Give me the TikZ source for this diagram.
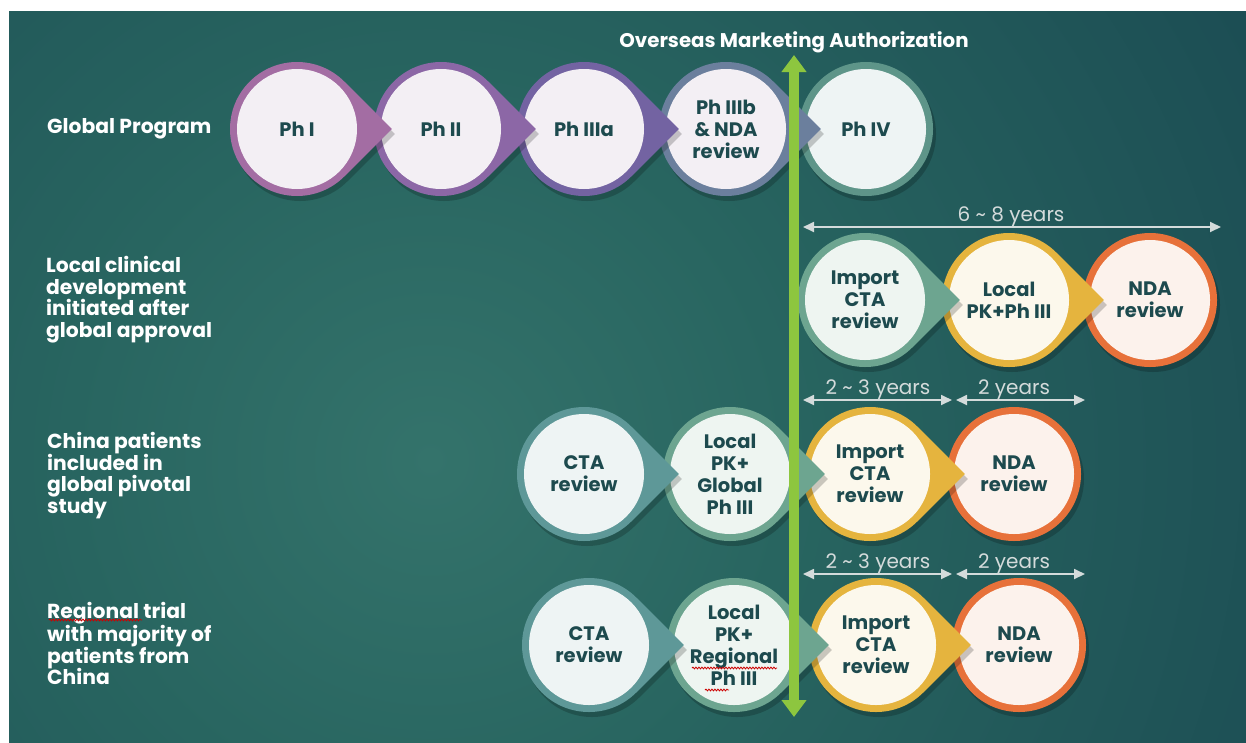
\documentclass[tikz,border=0pt]{standalone}
\usepackage{fontspec}
\setmainfont{Poppins}
\usetikzlibrary{arrows.meta,calc,decorations.pathmorphing}
\definecolor{bgA}{HTML}{34736B}
\definecolor{bgB}{HTML}{286560}
\definecolor{bgC}{HTML}{15404D}
\definecolor{txt}{HTML}{1D4A4E}
\definecolor{cA}{HTML}{A36DA3}
\definecolor{cB}{HTML}{8C67A6}
\definecolor{cC}{HTML}{7363A2}
\definecolor{cD}{HTML}{6B7F9D}
\definecolor{cE}{HTML}{5E9589}
\definecolor{fpur}{HTML}{F3EFF4}
\definecolor{sage}{HTML}{6DA590}
\definecolor{gold}{HTML}{E5B43E}
\definecolor{orng}{HTML}{E7713A}
\definecolor{teal}{HTML}{5E9898}
\definecolor{fsage}{HTML}{EEF5F1}
\definecolor{fgold}{HTML}{FCF8EC}
\definecolor{forng}{HTML}{FCF2EC}
\definecolor{fteal}{HTML}{EEF4F4}
\definecolor{grn}{HTML}{8DC63F}
\definecolor{dimc}{HTML}{D4DBDB}
\pgfdeclareradialshading{bgshade}{\pgfpoint{0bp}{0bp}}{color(0bp)=(bgA); color(6bp)=(bgB); color(21bp)=(bgC); color(50bp)=(bgC)}
\newcommand{\tdrop}[6]{%
  \fill[black,opacity=0.2] (#2+3,#3+5) ++(45:67) arc[start angle=45,end angle=315,radius=67] -- (#2+3+94.8,#3+5) -- cycle;
  \fill[#4] (#2,#3) ++(45:67) arc[start angle=45,end angle=315,radius=67] -- (#2+94.8,#3) -- cycle;
  \fill[#5] (#2,#3) circle[radius=60];
  \node[circtext] (#1) at (#2,#3) {#6};
}
\newcommand{\tcirc}[6]{%
  \fill[black,opacity=0.2] (#2+3,#3+5) circle[radius=67];
  \fill[#4] (#2,#3) circle[radius=67];
  \fill[#5] (#2,#3) circle[radius=60];
  \node[circtext] (#1) at (#2,#3) {#6};
}
\begin{document}
\begin{tikzpicture}[x=1pt,y=-1pt,
  circtext/.style={align=center, inner sep=0pt, text=txt, font=\bfseries\fontsize{19.5}{22}\selectfont},
  lbl/.style={align=left, inner sep=0pt, text=white, font=\bfseries\fontsize{20.3}{21.7}\selectfont},
  dim/.style={draw=dimc, line width=1.8pt, {Triangle[length=11pt,width=10pt]}-{Triangle[length=11pt,width=10pt]}},
  dimtext/.style={text=dimc, inner sep=0pt, font=\fontsize{20}{24}\selectfont, anchor=base},
  squig/.style={draw=red!80!black, line width=0.8pt, decorate, decoration={snake, amplitude=0.9pt, segment length=3pt}}]
\useasboundingbox (0,0) rectangle (1246,742);
\fill[white] (0,0) rectangle (1246,742);
\begin{scope}
  \clip (9,11) rectangle (1246,742);
  \fill[bgC] (9,11) rectangle (1246,742);
  \shade[shading=bgshade] (430,460) circle[radius=1500];
\end{scope}

% row labels
\node[lbl, anchor=west] (lg) at (47,128.5) {Global Program};
\node[lbl, anchor=north west] (ll) at (46,256) {Local clinical\\development\\initiated after\\global approval};
\node[lbl, anchor=north west] (lc) at (47,432) {China patients\\included in\\global pivotal\\study};
\node[lbl, anchor=north west] (lr) at (47,602) {Regional trial\\with majority of\\patients from\\China};

% row 1
\tcirc{p4}{866}{129}{cE}{fteal}{Ph IV}
\tdrop{p3b}{726}{129}{cD}{fpur}{Ph IIIb\\\& NDA\\review}
\tdrop{p3a}{584}{129}{cC}{fpur}{Ph IIIa}
\tdrop{p2}{441}{129}{cB}{fpur}{Ph II}
\tdrop{p1}{297}{129}{cA}{fpur}{Ph I}

% row 2
\tcirc{r2c}{1150}{300}{orng}{forng}{NDA\\review}
\tdrop{r2b}{1009}{300}{gold}{fgold}{Local\\PK+Ph III}
\tdrop{r2a}{865}{300}{sage}{fsage}{Import\\CTA\\review}

% row 3
\tcirc{r3d}{1014}{474}{orng}{forng}{NDA\\review}
\tdrop{r3c}{870}{474}{gold}{fgold}{Import\\CTA\\review}
\tdrop{r3b}{730}{474}{sage}{fsage}{Local\\PK+\\Global\\Ph III}
\tdrop{r3a}{584}{474}{teal}{fteal}{CTA\\review}

% row 4
\tcirc{r4d}{1019}{645}{orng}{forng}{NDA\\review}
\tdrop{r4c}{876}{645}{gold}{fgold}{Import\\CTA\\review}
\tdrop{r4b}{734}{645}{sage}{fsage}{Local\\PK+\\Regional\\Ph III}
\tdrop{r4a}{589}{645}{teal}{fteal}{CTA\\review}

% spell-check squiggles
\coordinate (s1a) at (49,620); \coordinate (s1b) at (142,620);
\draw[squig] (s1a) -- (s1b);
\coordinate (s2a) at (692,668); \coordinate (s2b) at (777,668);
\draw[squig] (s2a) -- (s2b);
\coordinate (s3a) at (705,690); \coordinate (s3b) at (729,690);
\draw[squig] (s3a) -- (s3b);

% green milestone arrow
\coordinate (gtop) at (794,55);
\coordinate (gbot) at (794,717);
\draw[grn, line width=10pt, {Triangle[length=17pt,width=24pt]}-{Triangle[length=17pt,width=24pt]}] (gbot) -- (gtop);
\node[text=white, inner sep=0pt, anchor=base, font=\bfseries\fontsize{19.8}{22}\selectfont] (oma) at (794,47) {Overseas Marketing Authorization};

% duration arrows
\coordinate (d1a) at (803,227); \coordinate (d1b) at (1221,227);
\draw[dim] (d1a) -- (d1b);
\node[dimtext] (t1) at (1011,221) {6 \textasciitilde{} 8 years};

\coordinate (d2a) at (803,400); \coordinate (d2b) at (952,400);
\coordinate (d2c) at (956,400); \coordinate (d2d) at (1085,400);
\draw[dim] (d2a) -- (d2b);
\draw[dim] (d2c) -- (d2d);
\node[dimtext] (t2) at (878,394) {2 \textasciitilde{} 3 years};
\node[dimtext] (t3) at (1014,394) {2 years};

\coordinate (d3a) at (803,574); \coordinate (d3b) at (952,574);
\coordinate (d3c) at (956,574); \coordinate (d3d) at (1085,574);
\draw[dim] (d3a) -- (d3b);
\draw[dim] (d3c) -- (d3d);
\node[dimtext] (t4) at (878,568) {2 \textasciitilde{} 3 years};
\node[dimtext] (t5) at (1014,568) {2 years};
\end{tikzpicture}
\end{document}
